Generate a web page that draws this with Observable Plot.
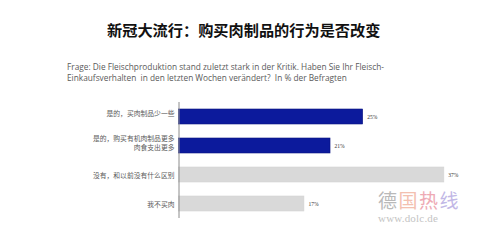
<!DOCTYPE html>
<html>
<head>
<meta charset="utf-8">
<script src="https://cdn.jsdelivr.net/npm/d3@7"></script>
<script src="https://cdn.jsdelivr.net/npm/@observablehq/plot@0.6"></script>
<style>
  html, body { margin: 0; padding: 0; background: #fff; }
  #wrap { position: relative; width: 498px; height: 243px; overflow: hidden; }
  #head { height: 95px; position: relative; }
  #title { position: absolute; left: 107px; top: 19px; white-space: nowrap;
    font-family: "Noto Sans CJK SC", sans-serif; font-weight: 700; font-size: 15.2px; line-height: 20px; color: #111; }
  #sub { position: absolute; left: 67px; top: 61px; font-family: "Open Sans", sans-serif;
    font-size: 8.3px; line-height: 11px; color: #5a5a5a; white-space: pre; }
  #wm { position: absolute; left: 378px; top: 189px; pointer-events: none; }
  #wm .cn { font-family: "Noto Sans CJK SC", sans-serif; font-size: 19px; line-height: 22px; font-weight: 400; letter-spacing: 1.5px; }
  #wm .url { font-family: "Liberation Serif", serif; font-size: 11px; line-height: 12px; color: #c4c4c4; letter-spacing: 0.2px; margin-top: 1px; }
</style>
</head>
<body>
<div id="wrap">
  <div id="head">
    <div id="title"></div>
    <div id="sub"></div>
  </div>
  <div id="chart"></div>
  <div id="wm"><div class="cn"><span style="color:#b9b9b9">德</span><span style="color:#f3c0b0">国</span><span style="color:#eeaab4">热</span><span style="color:#c2b8e6">线</span></div><div class="url">www.dolc.de</div></div>
</div>
<script>
const titleText = "新冠大流行：购买肉制品的行为是否改变";
const subtitleLines = [
  "Frage: Die Fleischproduktion stand zuletzt stark in der Kritik. Haben Sie Ihr Fleisch-",
  "Einkaufsverhalten  in den letzten Wochen verändert?  In % der Befragten"
];
const categories = [
  "是的，买肉制品少一些",
  "是的，购买有机肉制品更多\n肉食支出更多",
  "没有，和以前没有什么区别",
  "我不买肉"
];
const values = [25.4, 20.9, 36.6, 17.3];
const highlighted = [true, true, false, false];

document.getElementById("title").textContent = titleText;
document.getElementById("sub").textContent = subtitleLines.join("\n");

const data = categories.map((c, i) => ({cat: c, value: values[i], hi: highlighted[i], label: Math.round(values[i]) + "%"}));

const chart = Plot.plot({
  width: 498,
  height: 148,
  marginLeft: 178.5,
  marginRight: 29.5,
  marginTop: 7,
  marginBottom: 25,
  style: {fontFamily: "'Noto Sans CJK SC', sans-serif", background: "transparent"},
  x: {domain: [0, 40], axis: null},
  y: {domain: categories, axis: null, paddingInner: 0.48, paddingOuter: 0.24},
  marks: [
    Plot.barX(data, {
      y: "cat", x: "value",
      fill: d => d.hi ? "#0c1a9c" : "#d9d9d9",
      stroke: d => d.hi ? "#0a1580" : "#d4d4d4",
      strokeWidth: 0.6
    }),
    Plot.ruleX([0], {stroke: "#8c8c8c", strokeWidth: 1}),
    Plot.text(data.slice(0, 2), {
      y: "cat", x: 0, text: "cat", textAnchor: "end", dx: -4.5, dy: -3.5,
      fontSize: 6.8, fill: "#5a5a5a", lineHeight: 1.3
    }),
    Plot.text(data.slice(2), {
      y: "cat", x: 0, text: "cat", textAnchor: "end", dx: -4.5,
      fontSize: 6.8, fill: "#5a5a5a", lineHeight: 1.3
    }),
    Plot.text(data, {
      y: "cat", x: "value", text: "label", textAnchor: "start", dx: 4,
      fontSize: 5.5, fill: "#333", fontFamily: "'Liberation Serif', serif"
    })
  ]
});
document.getElementById("chart").appendChild(chart);
</script>
</body>
</html>
